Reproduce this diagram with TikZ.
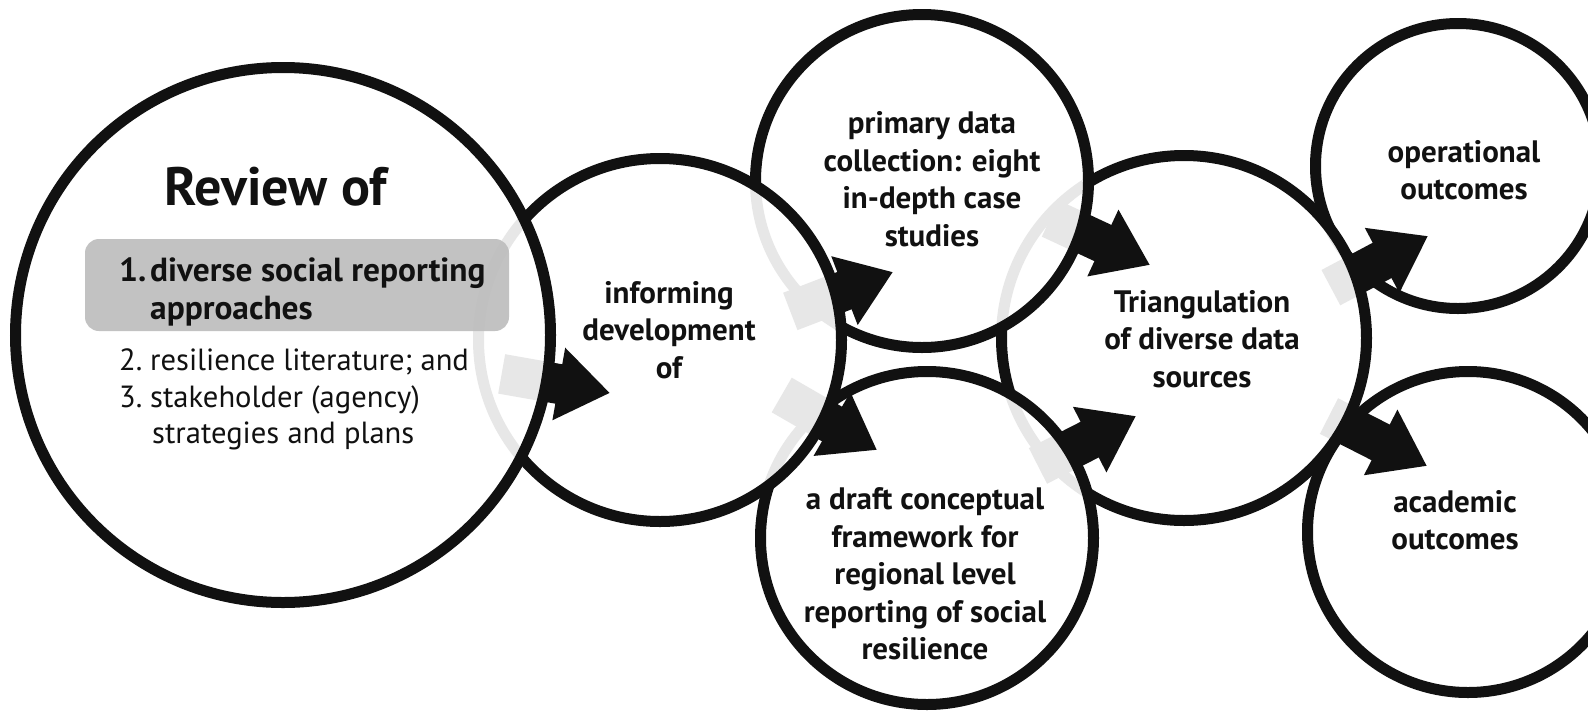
\documentclass[tikz,border=0pt]{standalone}
\usepackage{fontspec}
\setmainfont{PT Sans}
\usetikzlibrary{arrows.meta,calc}
\definecolor{ink}{HTML}{111111}
\definecolor{boxgray}{HTML}{BDBDBD}
\begin{document}
\begin{tikzpicture}[x=1pt,y=1pt,
  circ/.style={circle, draw=ink, line width=11pt, fill=white, fill opacity=0.9, inner sep=0pt, outer sep=0pt},
  lbl/.style={align=center, font=\fontsize{31}{37.5}\selectfont\bfseries, text=ink, inner sep=0pt},
  itemb/.style={anchor=base west, inner sep=0pt, text=ink, font=\fontsize{33.4}{38}\selectfont\bfseries},
  itemr/.style={anchor=base west, inner sep=0pt, text=ink, font=\fontsize{30.6}{36}\selectfont},
  barrow/.style={draw=ink, line width=40pt, -{Triangle[length=52pt,width=70pt]}},
]
\useasboundingbox[fill=white] (0,0) rectangle (1588,-713);

% outcome circles (bottom layer)
\node[circ, minimum size=285pt] (op) at (1458,-166) {};
\node[circ, minimum size=321pt] (ac) at (1468,-532) {};

\coordinate (h6) at (1428,-236);
\coordinate (t6) at ($(h6)+(208:110)$);
\coordinate (h7) at (1427,-466);
\coordinate (t7) at ($(h7)+(153:110)$);
\draw[barrow] (t6) -- (h6);
\draw[barrow] (t7) -- (h7);

% triangulation
\node[circ, minimum size=365pt] (tri) at (1184,-338) {};

\coordinate (h4) at (1150,-265);
\coordinate (t4) at ($(h4)+(155:110)$);
\coordinate (h5) at (1136,-416);
\coordinate (t5) at ($(h5)+(207:110)$);
\draw[barrow] (t4) -- (h4);
\draw[barrow] (t5) -- (h5);

% primary data / draft framework
\node[circ, minimum size=333pt] (prim) at (922,-181) {};
\node[circ, minimum size=333pt] (draft) at (927,-538) {};

\coordinate (h2) at (893,-272);
\coordinate (t2) at ($(h2)+(201:110)$);
\coordinate (h3) at (877,-450);
\coordinate (t3) at ($(h3)+(150:110)$);
\draw[barrow] (t2) -- (h2);
\draw[barrow] (t3) -- (h3);

% informing
\node[circ, minimum size=363pt] (inf) at (660,-340) {};

\coordinate (h1) at (610,-393);
\coordinate (t1) at ($(h1)+(170:110)$);
\draw[barrow] (t1) -- (h1);

% review
\node[circ, minimum size=535pt] (big) at (283,-335) {};

% highlighted item box
\node[fill=boxgray, fill opacity=0.92, rounded corners=14pt, minimum width=424pt, minimum height=92pt, inner sep=0pt] (box) at (297,-285) {};

% texts
\node[inner sep=0pt, text=ink, font=\fontsize{54}{60}\selectfont\bfseries] (title) at (276,-187) {Review of};
\node[itemb] (n1) at (119,-281) {1.};
\node[itemb] (i1) at (150,-281) {diverse social reporting};
\node[itemb] (i1b) at (150,-319) {approaches};
\node[itemr] (n2) at (119,-370) {2.};
\node[itemr] (i2) at (150,-370) {resilience literature; and};
\node[itemr] (n3) at (119,-407) {3.};
\node[itemr] (i3) at (150,-407) {stakeholder (agency)};
\node[itemr] (i3b) at (152,-443) {strategies and plans};

\node[lbl] (tinf) at (669,-330) {informing\\development\\of};
\node[lbl] (tprim) at (932,-179) {primary data\\collection: eight\\in-depth case\\studies};
\node[lbl] (tdraft) at (925,-574) {a draft conceptual\\framework for\\regional level\\reporting of social\\resilience};
\node[lbl] (ttri) at (1202,-339) {Triangulation\\of diverse data\\sources};
\node[lbl] (top) at (1464,-170) {operational\\outcomes};
\node[lbl] (tac) at (1455,-520) {academic\\outcomes};
\end{tikzpicture}
\end{document}
